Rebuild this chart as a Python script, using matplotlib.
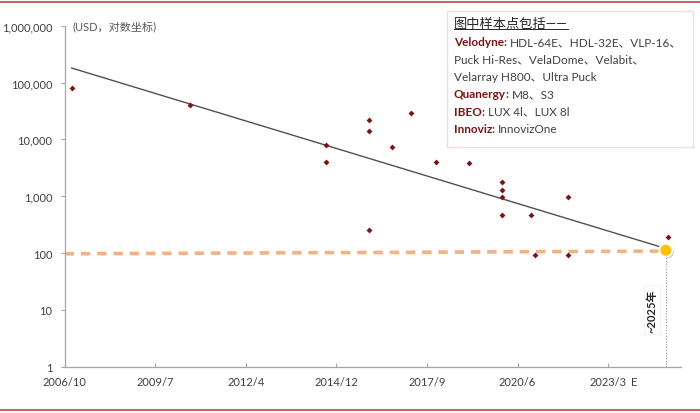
"""Lidar unit price trend (log scale) with sample points."""
import matplotlib.pyplot as plt
import matplotlib.ticker as mticker
import matplotlib.patheffects as pe
from matplotlib.patches import Rectangle
from matplotlib.lines import Line2D

plt.rcParams['font.family'] = ['Lato', 'Noto Sans CJK SC', 'DejaVu Sans']

# Sample lidar products: launch time (decimal year) and price (USD)
sample_year = [2006.96, 2010.55, 2014.67, 2014.67, 2016.0, 2016.0, 2016.0,
               2016.69, 2017.26, 2018.02, 2019.02, 2020.04, 2020.04, 2020.04,
               2020.04, 2020.91, 2021.04, 2022.04, 2022.04, 2025.06]
sample_price = [80000, 40000, 8000, 4000, 22000, 14000, 250,
                7200, 29000, 4000, 3800, 1800, 1300, 950,
                470, 470, 94, 950, 94, 190]

# Exponential trend line and the ~2025 target
trend_year = [2006.96, 2025.0]
trend_price = [180000, 120]
target_year = 2025.0
target_price = 112
line100_year = [2006.75, 2025.0]
line100_price = [97, 108]

x_ticks = [2006.75, 2009.5, 2012.25, 2015.0, 2017.75, 2020.5, 2023.25]
x_labels = ['2006/10', '2009/7', '2012/4', '2014/12', '2017/9', '2020/6', '2023/3']
y_ticks = [1, 10, 100, 1000, 10000, 100000, 1000000]

legend_title = '图中样本点包括——'
legend_rows = [
    ('Velodyne', 'HDL-64E、HDL-32E、VLP-16、'),
    ('', 'Puck Hi-Res、VelaDome、Velabit、'),
    ('', 'Velarray H800、Ultra Puck'),
    ('Quanergy', 'M8、S3'),
    ('IBEO', 'LUX 4l、LUX 8l'),
    ('Innoviz', 'InnovizOne'),
]

DARK_RED = '#7B1416'
TEXT = '#404040'
AXIS = '#A6A6A6'
W, H = 700, 414

fig = plt.figure(figsize=(7, 4.14), dpi=100)
ax = fig.add_axes([64.7 / W, 1 - 367.7 / H, (681 - 64.7) / W, (367.7 - 26.7) / H])

ax.set_yscale('log')
ax.set_ylim(1, 1000000)
ax.set_xlim(2006.75, 2025.46)

# trend + reference line
ax.plot(trend_year, trend_price, color='#505050', linewidth=1.0, zorder=3)
ax.plot(line100_year, line100_price, color='#F4B183', linewidth=2.6,
        dashes=(2.6, 1.9), zorder=2)
ax.plot([target_year, target_year], [1, target_price], color='#9A9A9A',
        linestyle=(0, (1, 1.5)), linewidth=0.8, zorder=2)

ax.scatter(sample_year, sample_price, marker='D', s=9, color=DARK_RED,
           linewidths=0, zorder=4)
ax.scatter([target_year], [target_price], s=90, color='#FFC000',
           edgecolor='white', linewidth=1.5, zorder=5,
           path_effects=[pe.SimplePatchShadow(offset=(1, -1), alpha=0.35), pe.Normal()])

ax.text(target_year - 0.25, 10, '~2025年', rotation=90, ha='right', va='center',
        fontsize=8, fontweight='bold', color='#262626', zorder=6,
        bbox=dict(boxstyle='square,pad=0.25', facecolor='white', edgecolor='#EEEEEE', linewidth=0.5))

# axes styling
for side in ['top', 'right']:
    ax.spines[side].set_visible(False)
for side in ['left', 'bottom']:
    ax.spines[side].set_color(AXIS)
    ax.spines[side].set_linewidth(0.9)

ax.set_yticks(y_ticks)
ax.yaxis.set_minor_locator(mticker.NullLocator())
ax.yaxis.set_major_formatter(mticker.FuncFormatter(lambda v, p: f'{int(v):,}'))
ax.tick_params(axis='y', direction='out', length=3, color=AXIS, pad=6,
               labelsize=8, labelcolor=TEXT)
ax.set_xticks(x_ticks)
ax.set_xticklabels(x_labels)
ax.tick_params(axis='x', direction='in', length=3, color=AXIS, pad=7,
               labelsize=8, labelcolor=TEXT)

ax.text(2024.03, -9.5 / 341, 'E', transform=ax.get_xaxis_transform(), ha='center', va='top',
        fontsize=8, color=TEXT)
ax.text(0.012, 1.0, '(USD，对数坐标)', transform=ax.transAxes, ha='left', va='center',
        fontsize=8, color='#595959')

# legend box
fig.patches.append(Rectangle((447 / W, 1 - 148 / H), 246 / W, 136 / H,
                             transform=fig.transFigure, facecolor='white',
                             edgecolor='#F2DCDB', linewidth=1.0, zorder=1))
title = fig.text(454 / W, 1 - 24 / H, legend_title, ha='left', va='center',
                 fontsize=9.5, color='#262626')
fig.canvas.draw()
renderer = fig.canvas.get_renderer()
inv = fig.transFigure.inverted()

row_y = [46.5, 63.8, 81.1, 98.4, 115.7, 133.0]
for (name, rest), yy in zip(legend_rows, row_y):
    x = 454 / W
    y = 1 - yy / H
    if name:
        t = fig.text(x, y, name, ha='left', va='baseline', fontsize=8.5,
                     color=DARK_RED, fontweight='bold')
        x = inv.transform(t.get_window_extent(renderer))[1][0]
        t = fig.text(x, y, ': ', ha='left', va='baseline', fontsize=8.5,
                     color=TEXT, fontweight='bold')
        x = inv.transform(t.get_window_extent(renderer))[1][0]
    fig.text(x, y, rest, ha='left', va='baseline', fontsize=8.5, color=TEXT)

# underline under the legend title
bb = title.get_window_extent(renderer).transformed(inv)
fig.add_artist(Line2D([bb.x0, bb.x1], [bb.y0, bb.y0], transform=fig.transFigure,
                      color='#262626', linewidth=0.7))

# frame lines at top and bottom of the page
fig.add_artist(Line2D([0, 1], [1 - 3 / H, 1 - 3 / H], transform=fig.transFigure,
                      color='#B5474A', linewidth=1.2))
fig.add_artist(Line2D([0, 1], [1 - 411 / H, 1 - 411 / H], transform=fig.transFigure,
                      color='#B5474A', linewidth=1.2))

fig.savefig('out.png', dpi=100)
